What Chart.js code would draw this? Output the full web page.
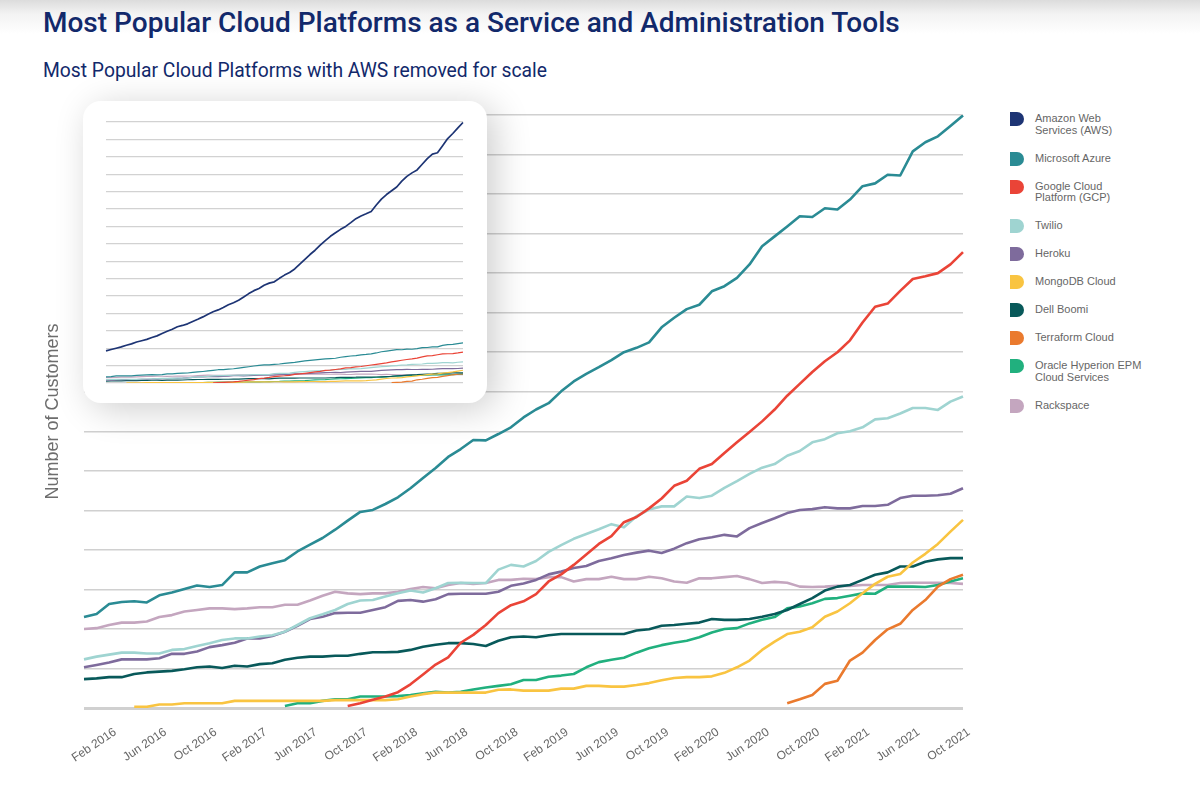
<!DOCTYPE html>
<html>
<head>
<meta charset="utf-8">
<script src="https://cdn.jsdelivr.net/npm/chart.js@4.4.1/dist/chart.umd.min.js"></script>
<style>
  html, body { margin: 0; padding: 0; }
  body {
    width: 1200px; height: 796px; position: relative; overflow: hidden;
    background: linear-gradient(to bottom, #dcdcdc 0px, #f3f3f3 14px, #ffffff 34px);
    font-family: "Liberation Sans", Arial, sans-serif;
  }
  h1 {
    position: absolute; left: 43px; top: 6px; margin: 0;
    font: 500 28px Roboto, sans-serif; color: #12296b; white-space: nowrap;
  }
  h2 {
    position: absolute; left: 43px; top: 59px; margin: 0;
    font: 400 19.3px Roboto, sans-serif; color: #12296b; white-space: nowrap;
  }
  #main-wrap { position: absolute; left: 0; top: 100px; width: 1000px; height: 696px; }
  #inset {
    position: absolute; left: 83px; top: 101px; width: 404px; height: 302px;
    background: #fff; border-radius: 18px;
    box-shadow: 8px 6px 36px rgba(0, 0, 0, 0.2);
  }
  #legend { position: absolute; left: 1010px; top: 113px; width: 185px; }
  .item { position: relative; padding-left: 25px; margin-bottom: 16.3px;
    font-size: 11px; line-height: 11.7px; color: #666; }
  .mark { position: absolute; left: 0; top: -1px; width: 14px; height: 14px;
    border-radius: 0 7px 7px 0; }
</style>
</head>
<body>
<h1>Most Popular Cloud Platforms as a Service and Administration Tools</h1>
<h2>Most Popular Cloud Platforms with AWS removed for scale</h2>
<div id="main-wrap"><canvas id="mainChart"></canvas></div>
<div id="inset"><canvas id="insetChart"></canvas></div>
<div id="legend"></div>

<script>
// months, Dec 2015 .. Oct 2021
const months = [
  "Dec 2015",
  "Jan 2016", "Feb 2016", "Mar 2016", "Apr 2016", "May 2016", "Jun 2016", "Jul 2016", "Aug 2016", "Sep 2016", "Oct 2016", "Nov 2016", "Dec 2016",
  "Jan 2017", "Feb 2017", "Mar 2017", "Apr 2017", "May 2017", "Jun 2017", "Jul 2017", "Aug 2017", "Sep 2017", "Oct 2017", "Nov 2017", "Dec 2017",
  "Jan 2018", "Feb 2018", "Mar 2018", "Apr 2018", "May 2018", "Jun 2018", "Jul 2018", "Aug 2018", "Sep 2018", "Oct 2018", "Nov 2018", "Dec 2018",
  "Jan 2019", "Feb 2019", "Mar 2019", "Apr 2019", "May 2019", "Jun 2019", "Jul 2019", "Aug 2019", "Sep 2019", "Oct 2019", "Nov 2019", "Dec 2019",
  "Jan 2020", "Feb 2020", "Mar 2020", "Apr 2020", "May 2020", "Jun 2020", "Jul 2020", "Aug 2020", "Sep 2020", "Oct 2020", "Nov 2020", "Dec 2020",
  "Jan 2021", "Feb 2021", "Mar 2021", "Apr 2021", "May 2021", "Jun 2021", "Jul 2021", "Aug 2021", "Sep 2021", "Oct 2021"
];
// labels printed under the axis
const tickLabels = ["Feb 2016", "Jun 2016", "Oct 2016", "Feb 2017", "Jun 2017", "Oct 2017", "Feb 2018", "Jun 2018", "Oct 2018",
  "Feb 2019", "Jun 2019", "Oct 2019", "Feb 2020", "Jun 2020", "Oct 2020", "Feb 2021", "Jun 2021", "Oct 2021"];

// customers (thousands, relative scale - the original has no y values)
const aws = [12.0, 12.5, 13.0, 13.5, 14.1, 14.6, 15.3, 15.8, 16.3, 17.0, 17.6, 18.5, 19.3, 20.1, 21.0, 21.5, 22.1, 23.0, 23.8, 24.7,
  25.7, 26.6, 27.3, 28.2, 29.2, 30.0, 30.9, 32.1, 33.4, 34.5, 35.3, 36.5, 37.3, 37.8, 39.1, 40.3, 41.3, 42.6, 44.4, 46.2,
  48.0, 49.6, 51.5, 53.2, 54.8, 56.1, 57.4, 58.5, 59.9, 61.4, 62.4, 63.2, 64.1, 66.5, 68.7, 70.4, 71.8, 73.2, 75.4, 77.2,
  78.5, 79.6, 81.7, 83.8, 85.5, 86.0, 88.6, 91.3, 93.2, 95.3, 97.3];
const azure = [2.30, 2.38, 2.63, 2.68, 2.70, 2.67, 2.85, 2.92, 3.01, 3.10, 3.06, 3.11, 3.43, 3.43, 3.58, 3.66, 3.74, 3.96, 4.13, 4.30,
  4.51, 4.74, 4.96, 5.01, 5.16, 5.33, 5.56, 5.82, 6.07, 6.35, 6.55, 6.78, 6.77, 6.93, 7.10, 7.35, 7.55, 7.71, 8.01, 8.26,
  8.45, 8.62, 8.80, 9.00, 9.11, 9.25, 9.63, 9.87, 10.09, 10.20, 10.54, 10.67, 10.88, 11.22, 11.68, 11.93, 12.18, 12.44, 12.42, 12.64,
  12.61, 12.86, 13.20, 13.27, 13.49, 13.47, 14.08, 14.31, 14.46, 14.72, 14.99];
const gcp = [null, null, null, null, null, null, null, null, null, null, null, null, null, null, null, null, null, null, null, null,
  null, 0.05, 0.12, 0.21, 0.29, 0.40, 0.60, 0.85, 1.10, 1.28, 1.65, 1.85, 2.10, 2.40, 2.60, 2.70, 2.88, 3.20, 3.38, 3.62,
  3.88, 4.15, 4.35, 4.70, 4.83, 5.05, 5.30, 5.62, 5.75, 6.05, 6.17, 6.45, 6.72, 6.98, 7.25, 7.55, 7.90, 8.20, 8.50, 8.77,
  9.00, 9.30, 9.75, 10.15, 10.23, 10.55, 10.85, 10.92, 11.00, 11.22, 11.53];
const twilio = [1.23, 1.30, 1.35, 1.40, 1.40, 1.38, 1.38, 1.47, 1.49, 1.57, 1.64, 1.72, 1.76, 1.76, 1.81, 1.84, 1.93, 2.10, 2.27, 2.37,
  2.48, 2.63, 2.72, 2.73, 2.82, 2.90, 2.97, 2.92, 3.03, 3.16, 3.17, 3.16, 3.16, 3.50, 3.62, 3.58, 3.72, 3.95, 4.12, 4.28,
  4.40, 4.52, 4.65, 4.57, 4.85, 5.02, 5.10, 5.10, 5.35, 5.31, 5.37, 5.57, 5.74, 5.92, 6.08, 6.17, 6.38, 6.50, 6.72, 6.80,
  6.95, 7.00, 7.10, 7.30, 7.33, 7.45, 7.59, 7.59, 7.54, 7.75, 7.88];
const heroku = [1.03, 1.09, 1.15, 1.23, 1.23, 1.23, 1.26, 1.37, 1.37, 1.43, 1.54, 1.59, 1.65, 1.76, 1.76, 1.82, 1.93, 2.08, 2.25, 2.31,
  2.40, 2.41, 2.41, 2.48, 2.55, 2.71, 2.73, 2.69, 2.75, 2.88, 2.89, 2.89, 2.89, 2.94, 3.09, 3.15, 3.24, 3.38, 3.45, 3.54,
  3.59, 3.72, 3.79, 3.87, 3.93, 3.98, 3.92, 4.03, 4.17, 4.27, 4.32, 4.38, 4.34, 4.55, 4.68, 4.80, 4.93, 5.01, 5.03, 5.08,
  5.05, 5.05, 5.11, 5.11, 5.14, 5.31, 5.37, 5.37, 5.38, 5.42, 5.56];
const mongodb = [null, null, null, null, 0.03, 0.03, 0.09, 0.09, 0.12, 0.12, 0.12, 0.12, 0.18, 0.18, 0.18, 0.18, 0.18, 0.18, 0.18, 0.18,
  0.20, 0.20, 0.20, 0.20, 0.20, 0.22, 0.29, 0.35, 0.39, 0.39, 0.39, 0.39, 0.39, 0.46, 0.47, 0.44, 0.44, 0.44, 0.49, 0.49,
  0.56, 0.56, 0.54, 0.54, 0.58, 0.63, 0.70, 0.76, 0.78, 0.78, 0.80, 0.89, 1.03, 1.20, 1.47, 1.68, 1.87, 1.93, 2.04, 2.31,
  2.44, 2.65, 2.90, 3.14, 3.32, 3.39, 3.68, 3.90, 4.15, 4.46, 4.76];
const dellBoomi = [0.73, 0.75, 0.78, 0.78, 0.86, 0.90, 0.92, 0.94, 0.98, 1.03, 1.05, 1.01, 1.07, 1.05, 1.11, 1.13, 1.22, 1.27, 1.30, 1.30,
  1.32, 1.32, 1.37, 1.41, 1.41, 1.42, 1.47, 1.55, 1.60, 1.64, 1.64, 1.62, 1.57, 1.70, 1.79, 1.81, 1.79, 1.84, 1.87, 1.87,
  1.87, 1.87, 1.87, 1.87, 1.96, 1.99, 2.08, 2.10, 2.13, 2.16, 2.25, 2.23, 2.23, 2.25, 2.31, 2.38, 2.48, 2.63, 2.78, 2.97,
  3.07, 3.11, 3.24, 3.37, 3.43, 3.58, 3.58, 3.70, 3.76, 3.79, 3.79];
const terraform = [null, null, null, null, null, null, null, null, null, null, null, null, null, null, null, null, null, null, null, null,
  null, null, null, null, null, null, null, null, null, null, null, null, null, null, null, null, null, null, null, null,
  null, null, null, null, null, null, null, null, null, null, null, null, null, null, null, null, 0.12, 0.22, 0.33, 0.61,
  0.69, 1.20, 1.40, 1.72, 1.99, 2.13, 2.48, 2.73, 3.07, 3.26, 3.37];
const oracle = [null, null, null, null, null, null, null, null, null, null, null, null, null, null, null, null, 0.05, 0.12, 0.12, 0.18,
  0.22, 0.22, 0.29, 0.29, 0.29, 0.30, 0.33, 0.37, 0.41, 0.39, 0.41, 0.47, 0.52, 0.56, 0.60, 0.71, 0.71, 0.79, 0.82, 0.86,
  1.03, 1.16, 1.22, 1.27, 1.40, 1.51, 1.59, 1.65, 1.70, 1.79, 1.91, 2.00, 2.02, 2.14, 2.23, 2.30, 2.52, 2.57, 2.65, 2.76,
  2.78, 2.84, 2.90, 2.89, 3.07, 3.07, 3.07, 3.06, 3.11, 3.20, 3.28];
const rackspace = [2.00, 2.02, 2.10, 2.16, 2.16, 2.19, 2.30, 2.35, 2.44, 2.48, 2.52, 2.52, 2.50, 2.52, 2.55, 2.55, 2.61, 2.61, 2.72, 2.84,
  2.94, 2.90, 2.88, 2.90, 2.90, 2.94, 3.01, 3.06, 3.03, 3.11, 3.16, 3.14, 3.16, 3.24, 3.24, 3.27, 3.26, 3.31, 3.31, 3.20,
  3.26, 3.26, 3.32, 3.26, 3.26, 3.32, 3.28, 3.20, 3.17, 3.28, 3.28, 3.31, 3.34, 3.26, 3.16, 3.19, 3.17, 3.07, 3.06, 3.07,
  3.09, 3.09, 3.11, 3.11, 3.11, 3.16, 3.17, 3.17, 3.17, 3.16, 3.14];

const seriesNames = [["Amazon Web", "Services (AWS)"], ["Microsoft Azure"], ["Google Cloud", "Platform (GCP)"], ["Twilio"], ["Heroku"],
  ["MongoDB Cloud"], ["Dell Boomi"], ["Terraform Cloud"], ["Oracle Hyperion EPM", "Cloud Services"], ["Rackspace"]];
const seriesColors = ["#1d3474", "#2a8b94", "#ea4437", "#9fd4d1", "#7e6b9c", "#f9c441", "#08595a", "#ea7a2e", "#21b07e", "#c4a6bf"];
const seriesData = [aws, azure, gcp, twilio, heroku, mongodb, dellBoomi, terraform, oracle, rackspace];

// HTML legend
const legend = document.getElementById("legend");
seriesNames.forEach((lines, i) => {
    const item = document.createElement("div");
    item.className = "item";
    item.innerHTML = `<span class="mark" style="background:${seriesColors[i]}"></span>` + lines.join("<br>");
    legend.appendChild(item);
});

function makeDatasets(fromIndex, width) {
    const sets = [];
    for (let i = fromIndex; i < seriesData.length; i++) {
        sets.push({
            label: seriesNames[i].join(" "),
            data: seriesData[i],
            borderColor: seriesColors[i],
            backgroundColor: seriesColors[i],
            borderWidth: i === 0 ? 1.7 : width,
            pointRadius: 0,
            tension: 0,
            borderJoinStyle: "round"
        });
    }
    return sets;
}

// main chart, AWS removed
new Chart(document.getElementById("mainChart"), {
    type: "line",
    data: { labels: months, datasets: makeDatasets(1, 2.6) },
    options: {
        responsive: true,
        maintainAspectRatio: false,
        animation: false,
        layout: { padding: { left: 38, right: 37, top: 15, bottom: 0 } },
        plugins: { legend: { display: false }, tooltip: { enabled: false } },
        scales: {
            x: {
                grid: { display: false },
                border: { display: false },
                afterFit: s => { s.height = 88; },
                ticks: {
                    autoSkip: false,
                    minRotation: 34,
                    maxRotation: 34,
                    padding: 9,
                    labelOffset: 6,
                    color: "#666",
                    font: { family: "Liberation Sans", size: 12 },
                    callback: (v, i) => tickLabels.includes(months[i]) ? months[i] : ""
                }
            },
            y: {
                min: 0,
                max: 15,
                ticks: { display: false, stepSize: 1 },
                border: { display: false },
                grid: {
                    drawTicks: false,
                    color: "#d0d0d0",
                    lineWidth: c => c.tick && c.tick.value === 0 ? 3 : 1.5
                },
                afterFit: s => { s.width = 46; },
                title: {
                    display: true,
                    text: "Number of Customers",
                    color: "#6d6d6d",
                    font: { family: "Liberation Sans", size: 18 }
                }
            }
        }
    }
});

// inset chart with AWS
new Chart(document.getElementById("insetChart"), {
    type: "line",
    data: { labels: months, datasets: makeDatasets(0, 1.2) },
    options: {
        responsive: true,
        maintainAspectRatio: false,
        animation: false,
        layout: { padding: { left: 23, right: 24, top: 21, bottom: 20 } },
        plugins: { legend: { display: false }, tooltip: { enabled: false } },
        scales: {
            x: { display: false },
            y: {
                min: 0,
                max: 97.5,
                ticks: { display: false, stepSize: 6.5 },
                border: { display: false },
                grid: { drawTicks: false, color: "#d2d2d2", lineWidth: 1.3 },
                afterFit: s => { s.width = 0; }
            }
        }
    }
});
</script>
</body>
</html>
